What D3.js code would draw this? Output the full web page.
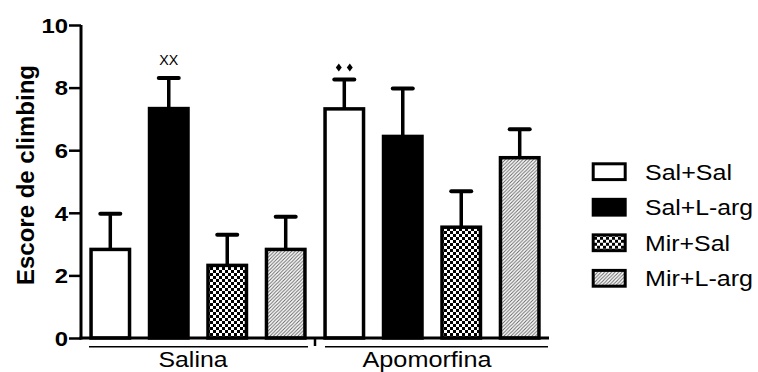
<!DOCTYPE html>
<html>
<head>
<meta charset="utf-8">
<script src="https://cdn.jsdelivr.net/npm/d3@7"></script>
<style>
  body { margin: 0; background: #fff; }
  svg { display: block; }
  text { font-family: "Liberation Sans", Arial, sans-serif; fill: #000; }
</style>
</head>
<body>
<svg id="chart" width="758" height="372"></svg>
<script>
// ---- data ----
const groups = ["Salina", "Apomorfina"];
const series = ["Sal+Sal", "Sal+L-arg", "Mir+Sal", "Mir+L-arg"];
const salinaMeans = [2.83, 7.33, 2.32, 2.83];
const salinaSem   = [1.14, 0.98, 0.98, 1.04];
const apoMeans    = [7.32, 6.44, 3.54, 5.76];
const apoSem      = [0.94, 1.53, 1.15, 0.91];
const yTicks = [0, 2, 4, 6, 8, 10];
const yLabel = "Escore de climbing";
// significance marks: [group, series, symbol]
const marks = [["Salina", "Sal+L-arg", "XX"], ["Apomorfina", "Sal+Sal", "diamonds"]];

const means = { "Salina": salinaMeans, "Apomorfina": apoMeans };
const sems  = { "Salina": salinaSem,  "Apomorfina": apoSem };
const fills = { "Sal+Sal": "#fff", "Sal+L-arg": "#000", "Mir+Sal": "url(#checker)", "Mir+L-arg": "url(#hatch)" };

const svg = d3.select("#chart");

// ---- patterns ----
const defs = svg.append("defs");
const chk = defs.append("pattern").attr("id", "checker").attr("patternUnits", "userSpaceOnUse")
  .attr("width", 6).attr("height", 6);
chk.append("rect").attr("width", 6).attr("height", 6).attr("fill", "#fff");
chk.append("rect").attr("width", 3).attr("height", 3).attr("fill", "#000");
chk.append("rect").attr("x", 3).attr("y", 3).attr("width", 3).attr("height", 3).attr("fill", "#000");
const hat = defs.append("pattern").attr("id", "hatch").attr("patternUnits", "userSpaceOnUse")
  .attr("width", 3.5).attr("height", 3.5);
hat.append("rect").attr("width", 3.5).attr("height", 3.5).attr("fill", "#fff");
hat.append("path").attr("d", "M-1,1 l2,-2 M0,3.5 l3.5,-3.5 M2.5,4.5 l2,-2")
  .attr("stroke", "#666").attr("stroke-width", 1);

// ---- scales ----
const y = d3.scaleLinear().domain([0, 10]).range([338, 25]);
const x0 = d3.scaleBand().domain(groups).range([81, 549]).padding(0);
const x1 = d3.scaleBand().domain(series).range([0, x0.bandwidth()])
  .paddingInner(0.282).paddingOuter(0.142);

const sw = 3.5;

// ---- y axis ----
const yAxis = d3.axisLeft(y).tickValues(yTicks).tickSize(12).tickSizeOuter(0).tickPadding(1);
const gy = svg.append("g").attr("transform", "translate(81,0)").call(yAxis);
gy.select(".domain").attr("stroke", "#000").attr("stroke-width", 3).attr("d", `M0,${y(10)}V${y(0) + 1.5}`);
gy.selectAll(".tick line").attr("stroke", "#000").attr("stroke-width", 2.5);
gy.selectAll(".tick text")
  .attr("font-size", 20.5).attr("font-weight", "bold")
  .attr("font-family", "Liberation Sans, Arial, sans-serif")
  .attr("fill", "#000").attr("dy", "0.36em")
  .attr("textLength", d => String(d).length * 13.3)
  .attr("lengthAdjust", "spacingAndGlyphs");

svg.append("text")
  .attr("transform", `translate(34,${175}) rotate(-90)`)
  .attr("text-anchor", "middle")
  .attr("font-size", 23).attr("font-weight", "bold")
  .attr("textLength", 220).attr("lengthAdjust", "spacingAndGlyphs")
  .text(yLabel);

// ---- bars ----
const gGroups = svg.selectAll("g.grp").data(groups).join("g")
  .attr("class", "grp").attr("transform", g => `translate(${x0(g)},0)`);

gGroups.each(function (g) {
  const sel = d3.select(this);
  const rows = series.map((s, i) => ({ s, m: means[g][i], e: sems[g][i] }));
  // error bars
  sel.selectAll("line.err").data(rows).join("line")
    .attr("x1", d => x1(d.s) + x1.bandwidth() / 2).attr("x2", d => x1(d.s) + x1.bandwidth() / 2)
    .attr("y1", d => y(d.m)).attr("y2", d => y(d.m + d.e))
    .attr("stroke", "#000").attr("stroke-width", 3.5);
  sel.selectAll("line.cap").data(rows).join("line")
    .attr("x1", d => x1(d.s) + x1.bandwidth() / 2 - 10).attr("x2", d => x1(d.s) + x1.bandwidth() / 2 + 10)
    .attr("y1", d => y(d.m + d.e)).attr("y2", d => y(d.m + d.e))
    .attr("stroke", "#000").attr("stroke-width", 4).attr("stroke-linecap", "round");
  sel.selectAll("rect.bar").data(rows).join("rect")
    .attr("class", "bar")
    .attr("x", d => x1(d.s) + sw / 2).attr("width", x1.bandwidth() - sw)
    .attr("y", d => y(d.m)).attr("height", d => y(0) - y(d.m))
    .attr("fill", d => fills[d.s]).attr("stroke", "#000").attr("stroke-width", sw);
});

// ---- x axis ----
svg.append("line").attr("x1", 79.5).attr("x2", x0.range()[1]).attr("y1", y(0)).attr("y2", y(0))
  .attr("stroke", "#000").attr("stroke-width", 3);
// separator tick between groups
svg.append("line").attr("x1", x0("Apomorfina")).attr("x2", x0("Apomorfina"))
  .attr("y1", y(0)).attr("y2", y(0) + 8).attr("stroke", "#000").attr("stroke-width", 2.5);
// group underlines and labels
const glen = { "Salina": 69, "Apomorfina": 129 };
groups.forEach((g, i) => {
  const a = x0(g) + (i === 0 ? 8 : 10), b = x0(g) + x0.bandwidth() - (i === 0 ? 7 : 1);
  svg.append("line").attr("x1", a).attr("x2", b).attr("y1", y(0) + 8.7).attr("y2", y(0) + 8.7)
    .attr("stroke", "#000").attr("stroke-width", 1.5);
  svg.append("text").attr("x", x0(g) + x0.bandwidth() / 2 - 5).attr("y", 367)
    .attr("text-anchor", "middle").attr("font-size", 22)
    .attr("textLength", glen[g]).attr("lengthAdjust", "spacingAndGlyphs")
    .text(g);
});

// ---- significance marks ----
marks.forEach(([g, s, sym]) => {
  const i = series.indexOf(s);
  const cx = x0(g) + x1(s) + x1.bandwidth() / 2;
  const top = y(means[g][i] + sems[g][i]);
  if (sym === "XX") {
    svg.append("text").attr("x", cx).attr("y", top - 12.5).attr("text-anchor", "middle")
      .attr("font-size", 14).attr("textLength", 19).attr("lengthAdjust", "spacingAndGlyphs")
      .text("XX");
  } else {
    [-5.5, 5.5].forEach(dx => {
      svg.append("path").attr("d", d3.symbol().type(d3.symbolDiamond).size(18)())
        .attr("transform", `translate(${cx + dx},${top - 12}) scale(1.3,1)`).attr("fill", "#000");
    });
  }
});

// ---- legend ----
const legY = d3.scalePoint().domain(series).range([171.7, 278.3]);
const legLen = { "Sal+Sal": 87, "Sal+L-arg": 108, "Mir+Sal": 85, "Mir+L-arg": 108 };
const leg = svg.selectAll("g.leg").data(series).join("g").attr("class", "leg")
  .attr("transform", s => `translate(0,${legY(s)})`);
leg.append("rect").attr("x", 593.2).attr("y", -7.9).attr("width", 32).attr("height", 15.8)
  .attr("fill", s => fills[s]).attr("stroke", "#000").attr("stroke-width", 3);
leg.append("text").attr("x", 645).attr("y", 8).attr("font-size", 22)
  .attr("textLength", s => legLen[s]).attr("lengthAdjust", "spacingAndGlyphs")
  .text(s => s);
</script>
</body>
</html>
